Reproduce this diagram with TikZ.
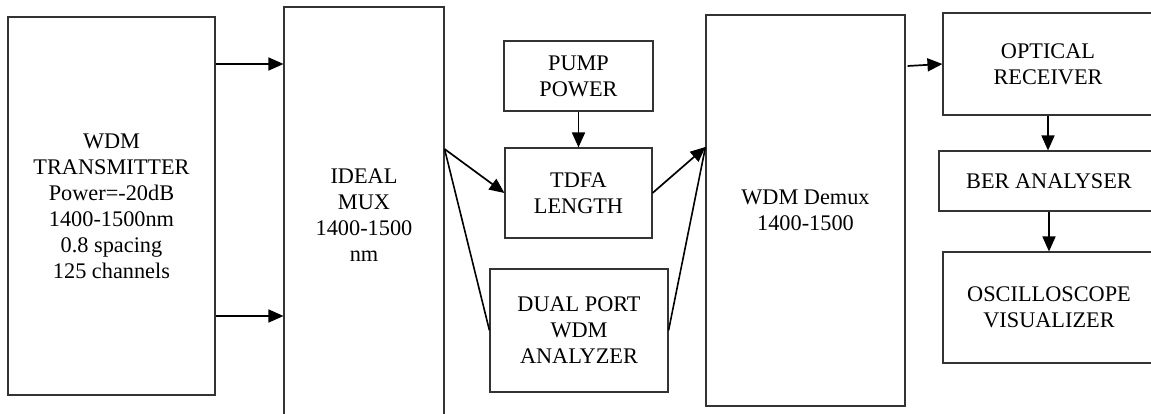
\documentclass[tikz,border=0pt]{standalone}
\usepackage{fontspec}
\setmainfont{Liberation Serif}
\usetikzlibrary{arrows.meta,calc}
\tikzset{
  blk/.style={draw=black!80, line width=1.1pt, rectangle, inner sep=0pt, align=center,
    font=\fontsize{22.3}{26}\selectfont},
  arr/.style={line width=1.7pt, -{Triangle[length=15pt,width=13pt]}},
  ln/.style={line width=1.6pt}
}
\begin{document}
\begin{tikzpicture}[x=1pt,y=-1pt]
\useasboundingbox (0,0) rectangle (1151,414);
\fill[white] (0,0) rectangle (1151,414);
\clip (0,0) rectangle (1151,414);
\node[blk, minimum width=207pt, minimum height=378pt] (tx) at (111.5,206)
  {WDM\\TRANSMITTER\\Power=-20dB\\1400-1500nm\\0.8 spacing\\125 channels};
\node[blk, minimum width=160pt, minimum height=416pt] (mux) at (364,215)
  {IDEAL\\MUX\\1400-1500\\nm};
\node[blk, minimum width=149pt, minimum height=70pt] (pump) at (578.5,76)
  {PUMP\\POWER};
\node[blk, minimum width=147pt, minimum height=90pt] (tdfa) at (578.5,193)
  {TDFA\\LENGTH};
\node[blk, minimum width=178pt, minimum height=123pt] (dual) at (579,330.5)
  {DUAL PORT\\WDM\\ANALYZER};
\node[blk, minimum width=199pt, minimum height=391pt] (demux) at (805.5,210.5)
  {WDM Demux\\1400-1500};
\node[blk, minimum width=210pt, minimum height=102pt] (optrx) at (1048,64)
  {OPTICAL\\RECEIVER};
\node[blk, minimum width=220pt, minimum height=60pt] (ber) at (1049,181)
  {BER ANALYSER};
\node[blk, minimum width=212pt, minimum height=111pt] (osc) at (1049,307.5)
  {OSCILLOSCOPE\\VISUALIZER};
\coordinate (ya) at (0,64);
\coordinate (yb) at (0,316);
\coordinate (mo) at (0,149);
\coordinate (di) at (0,147);
\coordinate (dout) at (0,66);
\draw[arr] (tx.east |- ya) -- (mux.west |- ya);
\draw[arr] (tx.east |- yb) -- (mux.west |- yb);
\draw[arr] (mux.east |- mo) -- (tdfa.west);
\draw[ln] (mux.east |- mo) -- (dual.west);
\draw[ln] (dual.east) -- (demux.west |- di);
\draw[arr] (tdfa.east) -- (demux.west |- di);
\draw[arr] (pump.south) -- (tdfa.north);
\draw[arr] ($(demux.east |- dout)+(2,0)$) -- (optrx.west);
\draw[arr] (optrx.south) -- (optrx.south |- ber.north);
\draw[arr] (ber.south) -- (ber.south |- osc.north);
\end{tikzpicture}
\end{document}
